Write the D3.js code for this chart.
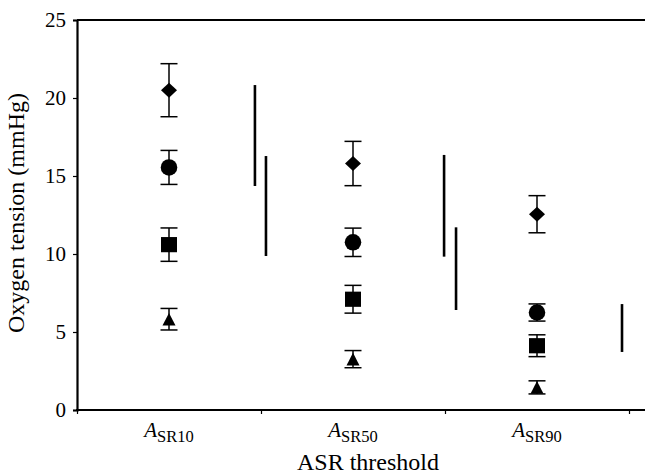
<!DOCTYPE html>
<html>
<head>
<meta charset="utf-8">
<script src="https://cdn.jsdelivr.net/npm/d3@7"></script>
<style>
  body { margin: 0; background: #fff; }
  svg { display: block; font-family: "Liberation Serif", "Times New Roman", serif; }
</style>
</head>
<body>
<script>
// categories on the x axis (A with subscript)
const categories = ["SR10", "SR50", "SR90"];
const yTicks = [0, 5, 10, 15, 20, 25];

// mean and error for each marker series, one value per category
const diamondMean = [20.5, 15.8, 12.55];
const diamondErr = [1.7, 1.42, 1.19];
const circleMean = [15.55, 10.75, 6.25];
const circleErr = [1.09, 0.91, 0.55];
const squareMean = [10.6, 7.1, 4.12];
const squareErr = [1.07, 0.89, 0.7];
const triangleMean = [5.82, 3.26, 1.45];
const triangleErr = [0.69, 0.55, 0.42];

// vertical range bars, x in category units
const rangeX = [0.967, 1.027, 1.995, 2.06, 2.962];
const rangeLow = [14.36, 9.87, 9.83, 6.41, 3.72];
const rangeHigh = [20.83, 16.28, 16.35, 11.71, 6.79];

const width = 645, height = 476;
const plotLeft = 77, plotTop = 20, plotBottom = 410, bandRight = 629;

const svg = d3.select("body").append("svg")
    .attr("width", width)
    .attr("height", height);

const x = d3.scaleLinear().domain([0, categories.length]).range([plotLeft, bandRight]);
const y = d3.scaleLinear().domain([0, 25]).range([plotBottom, plotTop]);

// custom symbols, slightly wider than tall like the original
const diamond = {
  draw(ctx, size) {
    const w = 8, h = 7.5;
    ctx.moveTo(0, -h); ctx.lineTo(w, 0); ctx.lineTo(0, h); ctx.lineTo(-w, 0); ctx.closePath();
  }
};
const triangle = {
  draw(ctx, size) {
    const w = 6.5, h = 6.3;
    ctx.moveTo(0, -h); ctx.lineTo(w, h); ctx.lineTo(-w, h); ctx.closePath();
  }
};
const square = {
  draw(ctx, size) {
    const w = 8, h = 7.6;
    ctx.rect(-w, -h, 2 * w, 2 * h);
  }
};

const series = [
  { mean: diamondMean, err: diamondErr, symbol: d3.symbol().type(diamond) },
  { mean: circleMean, err: circleErr, symbol: d3.symbol().type(d3.symbolCircle).size(215) },
  { mean: squareMean, err: squareErr, symbol: d3.symbol().type(square) },
  { mean: triangleMean, err: triangleErr, symbol: d3.symbol().type(triangle) }
];

// frame: top line and bottom axis run to the picture edge
svg.append("line")
    .attr("x1", plotLeft).attr("x2", width)
    .attr("y1", plotTop).attr("y2", plotTop)
    .attr("stroke", "#000").attr("stroke-width", 2.2);

// y axis
const yAxis = svg.append("g")
    .attr("transform", `translate(${plotLeft},0)`)
    .call(d3.axisLeft(y).tickValues(yTicks).tickSize(4).tickPadding(7));
yAxis.select(".domain").attr("stroke-width", 2.2);
yAxis.selectAll(".tick line").attr("stroke-width", 1.2);
yAxis.selectAll(".tick text")
    .attr("font-size", 21)
    .attr("font-family", "Liberation Serif")
    .attr("fill", "#000");

// x axis: ticks only at category boundaries
const xAxis = svg.append("g")
    .attr("transform", `translate(0,${plotBottom})`)
    .call(d3.axisBottom(x).tickValues(d3.range(categories.length + 1)).tickSize(4).tickFormat(""));
xAxis.select(".domain").remove();
xAxis.selectAll(".tick line").attr("stroke-width", 1.2);
svg.append("line")
    .attr("x1", plotLeft - 1).attr("x2", width)
    .attr("y1", plotBottom).attr("y2", plotBottom)
    .attr("stroke", "#000").attr("stroke-width", 2.2);

// category labels A_SRxx
const catLabel = svg.append("g").selectAll("text")
    .data(categories)
    .join("text")
    .attr("x", (d, i) => x(i + 0.5))
    .attr("y", 437)
    .attr("text-anchor", "middle")
    .attr("fill", "#000");
catLabel.append("tspan")
    .attr("font-size", 21)
    .attr("font-style", "italic")
    .text("A");
catLabel.append("tspan")
    .attr("font-size", 16.5)
    .attr("dy", 5)
    .text(d => d);

// axis titles
svg.append("text")
    .attr("x", 368).attr("y", 470)
    .attr("text-anchor", "middle")
    .attr("font-size", 24)
    .text("ASR threshold");
svg.append("text")
    .attr("transform", "translate(24,213) rotate(-90)")
    .attr("text-anchor", "middle")
    .attr("font-size", 24)
    .text("Oxygen tension (mmHg)");

// range bars
svg.append("g").selectAll("line")
    .data(rangeX)
    .join("line")
    .attr("x1", d => x(d)).attr("x2", d => x(d))
    .attr("y1", (d, i) => y(rangeLow[i]))
    .attr("y2", (d, i) => y(rangeHigh[i]))
    .attr("stroke", "#000")
    .attr("stroke-width", 2.6);

// error bars and markers
const capHalf = 8.5;
series.forEach(s => {
  const g = svg.append("g");
  const pts = categories.map((c, i) => ({ cx: x(i + 0.5), m: s.mean[i], e: s.err[i] }));

  g.selectAll("line.stem").data(pts).join("line")
      .attr("x1", d => d.cx).attr("x2", d => d.cx)
      .attr("y1", d => y(d.m - d.e)).attr("y2", d => y(d.m + d.e))
      .attr("stroke", "#000").attr("stroke-width", 1.5);
  [-1, 1].forEach(sign => {
    g.selectAll("line.cap" + (sign > 0 ? "hi" : "lo")).data(pts).join("line")
        .attr("class", "cap" + (sign > 0 ? "hi" : "lo"))
        .attr("x1", d => d.cx - capHalf).attr("x2", d => d.cx + capHalf)
        .attr("y1", d => y(d.m + sign * d.e)).attr("y2", d => y(d.m + sign * d.e))
        .attr("stroke", "#000").attr("stroke-width", 1.5);
  });
  g.selectAll("path").data(pts).join("path")
      .attr("transform", d => `translate(${d.cx},${y(d.m)})`)
      .attr("d", s.symbol())
      .attr("fill", "#000");
});
</script>
</body>
</html>
